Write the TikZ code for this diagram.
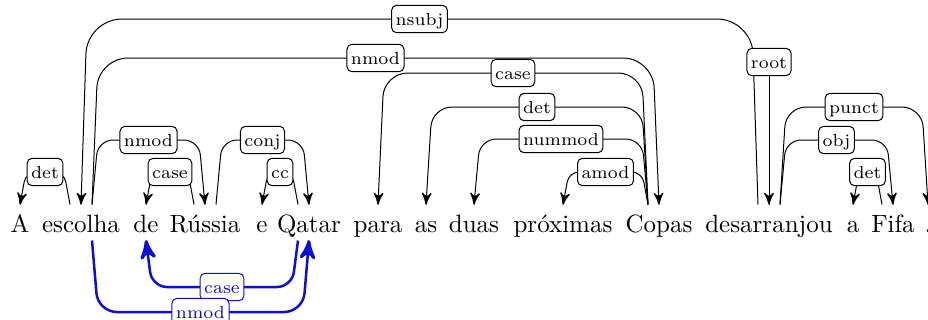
\documentclass[tikz,border=0pt]{standalone}
\usepackage{tikz}
\usetikzlibrary{arrows}
\usetikzlibrary{calc}
\usetikzlibrary{decorations.markings}
\tikzset{dep/.style = {decoration={markings,
                                   mark=at position 1 with {\arrow[scale=1.3]{stealth'}}},
                       postaction={decorate}}}
\tikzset{word/.style = {anchor=base, inner sep=0pt, text height=10.8pt, text depth=3.2pt}}
\tikzset{lab/.style = {draw, fill=white, rounded corners=2pt, inner sep=1.6pt,
                       line width=0.4pt, font=\scriptsize, text height=1.5ex, text depth=0.3ex}}
\definecolor{eblue}{rgb}{0.05, 0.05, 0.85}
\tikzset{enh/.style = {eblue, line width=1pt}}
% arc: [style]{anchor}{head}{start offset}{dependent}{height}{label}
\newcommand{\deparc}[7][]{%
  \draw [dep, #1] ($(#3.#2)+(#4,0)$) -- ($(#3.#2 |- 0,#6)+({1.55*(#4)},0)$)
    -- ($(#5.#2 |- 0,#6)+({-0.55*(#4)},0)$) node [lab, midway] {#7} -- (#5.#2);}

\begin{document}
\begin{tikzpicture}[x=0.4pt, y=-0.4pt]
    \useasboundingbox (0, 0) rectangle (928, 320);

    % the sentence
    \node [word] (A) at (20, 232) {A};
    \node [word] (escolha) at (81, 232) {escolha};
    \node [word] (de) at (146, 232) {de};
    \node [word] (russia) at (205, 232) {Rússia};
    \node [word] (e) at (262, 232) {e};
    \node [word] (qatar) at (309, 232) {Qatar};
    \node [word] (para) at (378, 232) {para};
    \node [word] (as) at (426, 232) {as};
    \node [word] (duas) at (474, 232) {duas};
    \node [word] (proximas) at (563, 232) {próximas};
    \node [word] (copas) at (659, 232) {Copas};
    \node [word] (desarranjou) at (769, 232) {desarranjou};
    \node [word] (a) at (853, 232) {a};
    \node [word] (fifa) at (893, 232) {Fifa};
    \node [word] (dot) at (928, 232) {.};

    % basic arcs above
    \deparc[rounded corners=4pt]{north}{escolha}{-11}{A}{172}{det}
    \deparc[rounded corners=14pt]{north}{desarranjou}{-11}{escolha}{19}{nsubj}
    \deparc[rounded corners=12pt]{north}{escolha}{11}{copas}{58}{nmod}
    \deparc[rounded corners=6pt]{north}{escolha}{11}{russia}{140}{nmod}
    \deparc[rounded corners=4pt]{north}{russia}{-11}{de}{172}{case}
    \deparc[rounded corners=6pt]{north}{russia}{11}{qatar}{140}{conj}
    \deparc[rounded corners=4pt]{north}{qatar}{-11}{e}{172}{cc}
    \deparc[rounded corners=9.5pt]{north}{copas}{-11}{para}{73}{case}
    \deparc[rounded corners=8pt]{north}{copas}{-11}{as}{107}{det}
    \deparc[rounded corners=6.5pt]{north}{copas}{-11}{duas}{139}{nummod}
    \deparc[rounded corners=4pt]{north}{copas}{-11}{proximas}{172}{amod}
    \deparc[rounded corners=6pt]{north}{desarranjou}{11}{fifa}{140}{obj}
    \deparc[rounded corners=8pt]{north}{desarranjou}{11}{dot}{107}{punct}
    \deparc[rounded corners=4pt]{north}{fifa}{-11}{a}{172}{det}

    \node [lab] (root) at (769, 62) {root};
    \draw [dep] (root) -- (desarranjou.north);

    % enhanced arcs below
    \deparc[enh, rounded corners=6pt]{south}{qatar}{-11}{de}{287}{case}
    \deparc[enh, rounded corners=7.5pt]{south}{escolha}{11}{qatar}{312}{nmod}
\end{tikzpicture}
\end{document}
